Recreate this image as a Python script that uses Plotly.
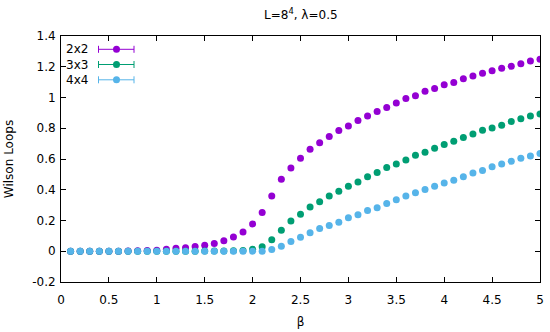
import plotly.graph_objects as go

beta = [round(0.1 * i, 1) for i in range(1, 51)]

w2x2 = [0.0, 0.0, 0.0, 0.0, 0.0, 0.0, 0.001, 0.004, 0.005, 0.007,
        0.013, 0.020, 0.022, 0.031, 0.039, 0.050, 0.068, 0.092, 0.126, 0.178,
        0.252, 0.359, 0.468, 0.541, 0.605, 0.663, 0.705, 0.746, 0.785, 0.815,
        0.851, 0.879, 0.909, 0.935, 0.965, 0.994, 1.011, 1.040, 1.059, 1.083,
        1.098, 1.122, 1.140, 1.157, 1.174, 1.190, 1.203, 1.220, 1.237, 1.248]

w3x3 = [0.0, 0.0, 0.0, 0.0, 0.0, 0.0, 0.0, 0.0, 0.0, 0.0,
        0.0, 0.0, 0.0, 0.0, 0.001, 0.001, 0.002, 0.003, 0.005, 0.013,
        0.029, 0.074, 0.137, 0.196, 0.241, 0.287, 0.322, 0.359, 0.391, 0.422,
        0.450, 0.485, 0.513, 0.545, 0.567, 0.594, 0.624, 0.644, 0.670, 0.694,
        0.716, 0.740, 0.763, 0.787, 0.802, 0.820, 0.844, 0.861, 0.879, 0.892]

w4x4 = [0.0, 0.0, 0.0, 0.0, 0.0, 0.0, 0.0, 0.0, 0.0, 0.0,
        0.0, 0.0, 0.0, 0.0, 0.0, 0.0, 0.0, 0.0, 0.0, 0.0,
        0.0, 0.011, 0.033, 0.063, 0.091, 0.120, 0.148, 0.168, 0.189, 0.218,
        0.237, 0.265, 0.283, 0.310, 0.335, 0.359, 0.381, 0.402, 0.422, 0.444,
        0.461, 0.485, 0.509, 0.526, 0.550, 0.568, 0.585, 0.605, 0.620, 0.635]

series_names = ["2x2", "3x3", "4x4"]
series_values = [w2x2, w3x3, w4x4]
colors = ["#9400D3", "#009E73", "#56B4E9"]

x_ticks = [0, 0.5, 1, 1.5, 2, 2.5, 3, 3.5, 4, 4.5, 5]
x_tick_labels = ["0", "0.5", "1", "1.5", "2", "2.5", "3", "3.5", "4", "4.5", "5"]
y_ticks = [-0.2, 0, 0.2, 0.4, 0.6, 0.8, 1, 1.2, 1.4]
y_tick_labels = ["-0.2", "0", "0.2", "0.4", "0.6", "0.8", "1", "1.2", "1.4"]

W, H = 550, 332
ML, MR, MT, MB = 61, 10, 36, 50
PW, PH = W - ML - MR, H - MT - MB

FONT = "DejaVu Sans"

fig = go.Figure()
for name, vals, col in zip(series_names, series_values, colors):
    fig.add_trace(go.Scatter(
        x=beta, y=vals, mode="markers", name=name, showlegend=False,
        marker=dict(color=col, size=7, line=dict(width=0)),
    ))


def px_x(px):
    return (px - ML) / PW


def px_y(py):
    return (H - MB - py) / PH


shapes = []
annotations = []
row_y = [49.3, 64.5, 79.8]
for name, col, ry in zip(series_names, colors, row_y):
    yc = px_y(ry)
    x1, x2 = px_x(98.5), px_x(134)
    shapes.append(dict(type="line", xref="paper", yref="paper", x0=x1, x1=x2, y0=yc, y1=yc,
                       line=dict(color=col, width=1)))
    for xe in (x1, x2):
        shapes.append(dict(type="line", xref="paper", yref="paper", x0=xe, x1=xe,
                           y0=yc - 3.5 / PH, y1=yc + 3.5 / PH, line=dict(color=col, width=1)))
    xm = px_x(116.5)
    shapes.append(dict(type="circle", xref="paper", yref="paper",
                       x0=xm - 3.5 / PW, x1=xm + 3.5 / PW, y0=yc - 3.5 / PH, y1=yc + 3.5 / PH,
                       fillcolor=col, line=dict(width=0)))
    annotations.append(dict(text=name, xref="paper", yref="paper", x=px_x(90), y=yc,
                            xanchor="right", yanchor="middle", showarrow=False,
                            font=dict(family=FONT, size=12, color="black")))

annotations.append(dict(text="L=8<sup>4</sup>, λ=0.5", xref="paper", yref="paper",
                        x=0.5, y=px_y(14), xanchor="center", yanchor="middle",
                        showarrow=False, font=dict(family=FONT, size=12, color="black")))

fig.update_layout(
    width=W, height=H,
    margin=dict(l=ML, r=MR, t=MT, b=MB),
    paper_bgcolor="white", plot_bgcolor="white",
    font=dict(family=FONT, size=12, color="black"),
    shapes=shapes, annotations=annotations,
    showlegend=False,
)
fig.update_xaxes(
    range=[0, 5], tickvals=x_ticks, ticktext=x_tick_labels,
    ticks="inside", ticklen=5, tickcolor="black", mirror="allticks",
    showline=True, linecolor="black", linewidth=1, showgrid=False, zeroline=False,
    ticklabelstandoff=7, automargin=False,
    title=dict(text="β", standoff=11, font=dict(size=12)),
    tickfont=dict(size=12),
)
fig.update_yaxes(
    range=[-0.2, 1.4], tickvals=y_ticks, ticktext=y_tick_labels,
    ticks="inside", ticklen=5, tickcolor="black", mirror="allticks",
    showline=True, linecolor="black", linewidth=1, showgrid=False, zeroline=False,
    ticklabelstandoff=2, automargin=False,
    title=dict(text="Wilson Loops", standoff=15, font=dict(size=12)),
    tickfont=dict(size=12),
)

fig.write_html("out.html", config={"displayModeBar": False},
               post_script="document.body.style.margin='0px';")
